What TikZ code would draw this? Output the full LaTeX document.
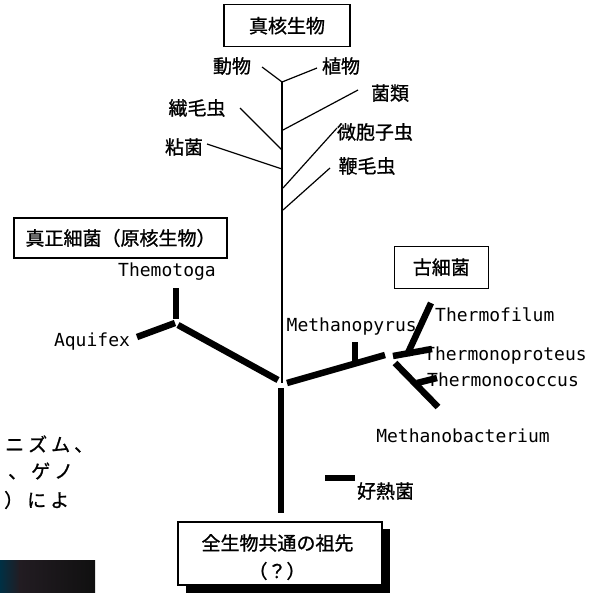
\documentclass[tikz,border=0pt]{standalone}
\usepackage{fontspec}
\newfontfamily\cjk[FakeBold=1]{Noto Sans CJK JP}
\newfontfamily\mono{DejaVu Sans Mono}
\definecolor{darkA}{RGB}{0,48,68}
\definecolor{darkB}{RGB}{34,28,34}
\definecolor{darkC}{RGB}{16,16,16}
\begin{document}
\begin{tikzpicture}[x=1pt,y=-1pt,
  jp/.style={font=\cjk\fontsize{19}{22}\selectfont, inner sep=0pt},
  lat/.style={font=\mono\fontsize{18}{20}\selectfont, inner sep=0pt},
  tbox/.style={draw, line width=1.3pt, fill=white, inner sep=0pt},
  fine/.style={line width=1.2pt},
  stem/.style={line width=1.8pt},
  heavy/.style={line width=6.5pt}]
\useasboundingbox (0,0) rectangle (604,592);

% ---------- Eukaryotes ----------
\node[tbox, minimum width=126pt, minimum height=42pt, jp] (euk) at (287,25.7) {真核生物};
\coordinate (eTop) at (282,82);
\coordinate (root) at (282,383);
\coordinate (e1) at (283,130);
\coordinate (e2) at (282,150);
\coordinate (e3) at (282,169);
\coordinate (e4) at (283,188);
\coordinate (e5) at (283,210);
\coordinate (dobE) at (262,67);
\coordinate (shoE) at (317,68);
\coordinate (kinE) at (358,90);
\coordinate (senE) at (240,108);
\coordinate (nenE) at (207,144);
\coordinate (biE) at (337,128);
\coordinate (benE) at (330,168);
\draw[stem] (eTop) -- (root);
\draw[fine] (dobE) -- (eTop) -- (shoE);
\draw[fine] (e1) -- (kinE);
\draw[fine] (e2) -- (senE);
\draw[fine] (e3) -- (nenE);
\draw[fine] (e4) -- (biE);
\draw[fine] (e5) -- (benE);
\node[jp] (dob) at (232,66) {動物};
\node[jp] (sho) at (341,66) {植物};
\node[jp] (kin) at (390,93) {菌類};
\node[jp] (sen) at (197,108) {繊毛虫};
\node[jp] (nen) at (184,147) {粘菌};
\node[jp] (bi) at (375,132) {微胞子虫};
\node[jp] (ben) at (367,166) {鞭毛虫};

% ---------- Bacteria ----------
\node[tbox, minimum width=213pt, minimum height=40pt, jp] (bact) at (120.5,238) {真正細菌（原核生物）};
\node[lat, anchor=base] (themo) at (167,276.5) {Themotoga};
\node[lat, anchor=base] (aqui) at (92,346) {Aquifex};
\coordinate (themoE) at (176,288);
\coordinate (themoS) at (176,319);
\coordinate (aquiS) at (175,323);
\coordinate (aquiE) at (137,337);
\coordinate (bS) at (178,325);
\coordinate (bE) at (278,380);
\draw[heavy] (themoS) -- (themoE);
\draw[heavy] (aquiS) -- (aquiE);
\draw[heavy] (bS) -- (bE);

% ---------- Archaea ----------
\node[tbox, minimum width=94pt, minimum height=42pt, jp] (arch) at (441.3,267.2) {古細菌};
\node[lat, anchor=base] (mpyr) at (351.7,331.5) {Methanopyrus};
\node[lat, anchor=base west] (tfil) at (435,321) {Thermofilum};
\node[lat, anchor=base west] (tpro) at (424,360) {Thermonoproteus};
\node[lat, anchor=base west] (tcoc) at (427,386.7) {Thermonococcus};
\node[lat, anchor=base] (mbac) at (463,442.7) {Methanobacterium};
\coordinate (aS) at (287,383);
\coordinate (aE) at (385,355);
\coordinate (mpT) at (355,342);
\coordinate (mpB) at (355,363);
\coordinate (hubA) at (393,356);
\coordinate (tproE) at (432,349);
\coordinate (tfilS) at (407,355);
\coordinate (tfilE) at (431,303);
\coordinate (tcocS) at (395,363);
\coordinate (tcocE) at (438,407);
\coordinate (tcocB) at (417,383);
\coordinate (tcocBE) at (437,378);
\draw[heavy] (aS) -- (aE);
\draw[heavy] (mpT) -- (mpB);
\draw[heavy] (hubA) -- (tproE);
\draw[heavy] (tfilS) -- (tfilE);
\draw[heavy] (tcocS) -- (tcocE);
\draw[heavy] (tcocB) -- (tcocBE);

% ---------- Thermophiles ----------
\coordinate (hotS) at (325,478);
\coordinate (hotE) at (355,478);
\draw[heavy] (hotS) -- (hotE);
\node[jp] (hot) at (385.5,491) {好熱菌};

% ---------- Common ancestor ----------
\coordinate (trS) at (281,388);
\coordinate (trE) at (281,513);
\draw[heavy] (trS) -- (trE);
\fill[black] (186,529) rectangle (390,593);
\node[tbox, minimum width=204pt, minimum height=63pt] (anc) at (280,553.5) {};
\node[jp] (anc1) at (277.5,543) {全生物共通の祖先};
\node[jp] (anc2) at (277,571) {（？）};

% ---------- fragments at left ----------
\node[jp, anchor=west] (frag1) at (5,444) {ニ\hspace{4pt}ズ\hspace{4pt}ム\hspace{4pt}、};
\node[jp, anchor=west] (frag2) at (8,471) {、\hspace{4pt}ゲ\hspace{4pt}ノ};
\node[jp, anchor=west] (frag3) at (4,500) {）\hspace{4pt}に\hspace{4pt}よ};
\shade[left color=darkA, right color=darkB] (0,560) rectangle (20,592);
\shade[left color=darkB, right color=darkC] (19.5,560) rectangle (95,592);
\end{tikzpicture}
\end{document}
